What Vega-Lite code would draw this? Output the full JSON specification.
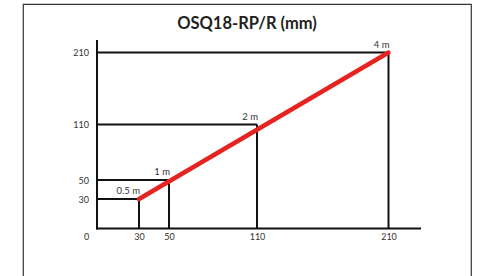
{
  "$schema": "https://vega.github.io/schema/vega-lite/v6.json",
  "width": 448,
  "height": 272,
  "autosize": {"type": "none"},
  "padding": {"left": 23, "top": 4, "right": 7, "bottom": 0},
  "background": "white",
  "title": {
    "text": "OSQ18-RP/R (mm)",
    "frame": "group",
    "anchor": "middle",
    "orient": "top",
    "offset": -41,
    "baseline": "alphabetic",
    "font": "Lato",
    "fontSize": 16.5,
    "fontWeight": "bold",
    "color": "#231f20"
  },
  "config": {
    "view": {"stroke": "#333333", "strokeWidth": 1.2, "strokeDash": [720, 448, 272, 0]},
    "font": "Lato"
  },
  "datasets": {
    "points": [
      {"x": 30, "y": 30, "label": "0.5 m"},
      {"x": 50, "y": 50, "label": "1 m"},
      {"x": 110, "y": 110, "label": "2 m"},
      {"x": 210, "y": 210, "label": "4 m"}
    ],
    "axes": [
      {"x": 0, "y": 0, "x2": 234, "y2": 0},
      {"x": 0, "y": 0, "x2": 0, "y2": 226}
    ]
  },
  "data": {"name": "points"},
  "encoding": {
    "x": {
      "field": "x",
      "type": "quantitative",
      "scale": {"domain": [0, 30, 50, 110, 210], "range": [74, 116, 146, 234, 365.5], "zero": false, "nice": false},
      "axis": {
        "values": [0, 30, 50, 110, 210],
        "orient": "bottom",
        "offset": -47.5,
        "domain": false,
        "ticks": false,
        "tickSize": 0,
        "grid": false,
        "labelPadding": 4,
        "labelFont": "Lato",
        "labelFontSize": 9,
        "labelColor": "#333333",
        "labelFlush": false,
        "labelOverlap": false,
        "labelOffset": {"condition": {"test": "datum.value === 0", "value": -11}, "value": 0},
        "title": null
      }
    },
    "y": {
      "field": "y",
      "type": "quantitative",
      "scale": {"domain": [0, 30, 50, 110, 210], "range": [224.5, 195, 176, 120.5, 48.5], "zero": false, "nice": false},
      "axis": {
        "values": [30, 50, 110, 210],
        "orient": "left",
        "offset": -74,
        "domain": false,
        "ticks": false,
        "tickSize": 0,
        "grid": false,
        "labelPadding": 8.5,
        "labelFont": "Lato",
        "labelFontSize": 9,
        "labelColor": "#333333",
        "labelFlush": false,
        "labelOverlap": false,
        "title": null
      }
    }
  },
  "layer": [
    {
      "data": {"name": "axes"},
      "mark": {"type": "rule", "color": "#111111", "strokeWidth": 2, "strokeCap": "square"},
      "encoding": {"x2": {"field": "x2"}, "y2": {"field": "y2"}}
    },
    {
      "mark": {"type": "rule", "color": "#111111", "strokeWidth": 2},
      "encoding": {"y2": {"datum": 0}}
    },
    {
      "mark": {"type": "rule", "color": "#111111", "strokeWidth": 2},
      "encoding": {"x": {"datum": 0}, "x2": {"field": "x"}}
    },
    {
      "transform": [{"filter": "datum.label === '0.5 m' || datum.label === '4 m'"}],
      "mark": {"type": "line", "color": "#e52421", "strokeWidth": 4.5, "strokeCap": "round"},
      "encoding": {}
    },
    {
      "mark": {"type": "text", "align": "right", "baseline": "alphabetic", "dx": 1, "dy": -5, "font": "Lato", "fontSize": 9.5, "color": "#333333"},
      "encoding": {"text": {"field": "label", "type": "nominal"}}
    }
  ]
}
